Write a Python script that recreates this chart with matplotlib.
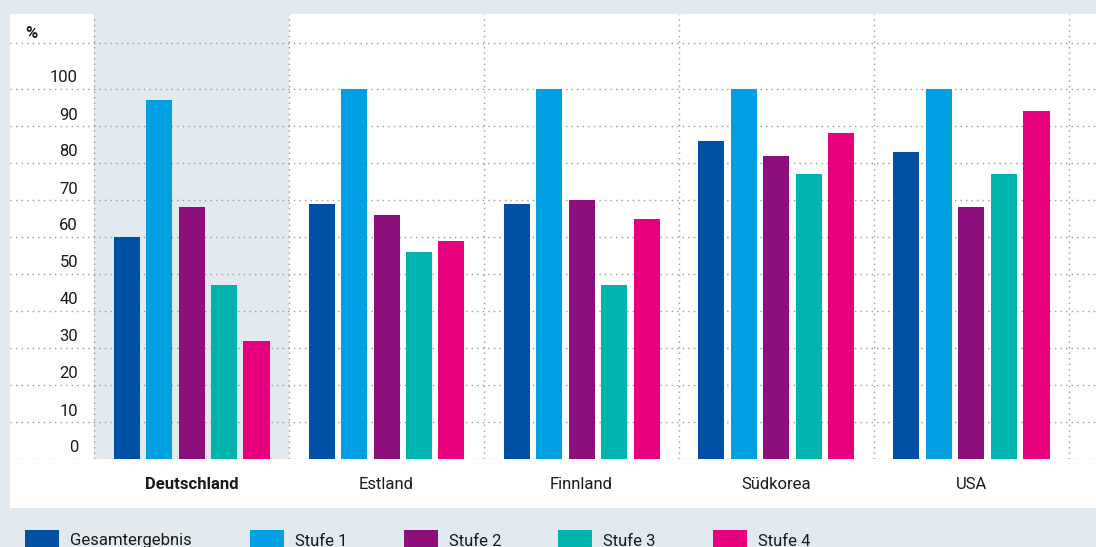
import matplotlib
matplotlib.use("Agg")
import matplotlib.pyplot as plt
from matplotlib.patches import Rectangle
from matplotlib import font_manager as fm

# ---------------- data ----------------
countries = ["Deutschland", "Estland", "Finnland", "Südkorea", "USA"]
series_names = ["Gesamtergebnis", "Stufe 1", "Stufe 2", "Stufe 3", "Stufe 4"]
gesamt = [60, 69, 69, 86, 83]
stufe1 = [97, 100, 100, 100, 100]
stufe2 = [68, 66, 70, 82, 68]
stufe3 = [47, 56, 47, 77, 77]
stufe4 = [32, 59, 65, 88, 94]
y_ticks = [0, 10, 20, 30, 40, 50, 60, 70, 80, 90, 100]
y_unit = "%"

# ---------------- style ----------------
colors = ["#0050a5", "#00a0e3", "#8c0f7b", "#00b3ac", "#e6007e"]
bg = "#e2eaf0"
grid_c = "#9a9a9a"
txt_c = "#1a1a1a"

avail = {f.name for f in fm.fontManager.ttflist}
fam = [f for f in ["Liberation Sans Narrow", "Roboto", "DejaVu Sans"] if f in avail]
plt.rcParams["font.family"] = fam

W, H = 1096, 547
fig = plt.figure(figsize=(W / 100, H / 100), dpi=100)
fig.patch.set_facecolor(bg)

# white panel
fig.add_artist(Rectangle((10 / W, 1 - 508 / H), (W - 10) / W, 494 / H,
                         transform=fig.transFigure, facecolor="white",
                         edgecolor="none", zorder=0))

# axes: pixels x 10..1096, y 14..459
ax = fig.add_axes([10 / W, 1 - 459 / H, (W - 10) / W, 445 / H])
ax.set_facecolor("none")
px_per_cat = 195.0
px_per_unit = 3.7
ax.set_xlim(-0.5 - 84 / px_per_cat, 4.5 + 27 / px_per_cat)
ax.set_ylim(0, 445 / px_per_unit)
for s in ax.spines.values():
    s.set_visible(False)

# shaded first group
ax.axvspan(-0.5, 0.5, color=bg, zorder=0.5, lw=0)

dots = (0, (1, 3))
for v in y_ticks:
    ax.axhline(v, color=grid_c, lw=1, ls=dots, zorder=1)
ax.axhline((459 - 43) / px_per_unit, color=grid_c, lw=1, ls=dots, zorder=1)
for xv in [i - 0.5 for i in range(len(countries) + 1)]:
    ax.axvline(xv, color=grid_c, lw=1, ls=dots, zorder=1)

all_series = [gesamt, stufe1, stufe2, stufe3, stufe4]
bw = 26 / px_per_cat
step = 32.5 / px_per_cat
for k, vals in enumerate(all_series):
    xs = [i + (k - 2) * step for i in range(len(countries))]
    ax.bar(xs, vals, width=bw, color=colors[k], zorder=2, linewidth=0)

# y labels (inside, above gridlines)
ylab_x = -0.5 - 16 / px_per_cat
for v in y_ticks:
    ax.text(ylab_x, v + 11 / px_per_unit, str(v), ha="right", va="center",
            fontsize=12, color=txt_c)
ax.text(-0.5 - 69 / px_per_cat, (459 - 33) / px_per_unit, y_unit,
        ha="left", va="center", fontsize=12, fontweight="bold", color=txt_c)

ax.set_yticks([])
ax.set_xticks(range(len(countries)))
ax.set_xticklabels(countries, fontsize=12, color=txt_c)
ax.get_xticklabels()[0].set_fontweight("bold")
ax.tick_params(axis="x", length=0, pad=13)

# legend
leg_x = [25, 250, 404, 558, 713]
for k, name in enumerate(series_names):
    fig.add_artist(Rectangle((leg_x[k] / W, 0), 34 / W, (547 - 530) / H,
                             transform=fig.transFigure, facecolor=colors[k],
                             edgecolor="none"))
    fig.text((leg_x[k] + 45) / W, 1 - 541 / H, name, ha="left", va="center",
             fontsize=12, color=txt_c)

fig.savefig("out.png", dpi=100, facecolor=bg)
